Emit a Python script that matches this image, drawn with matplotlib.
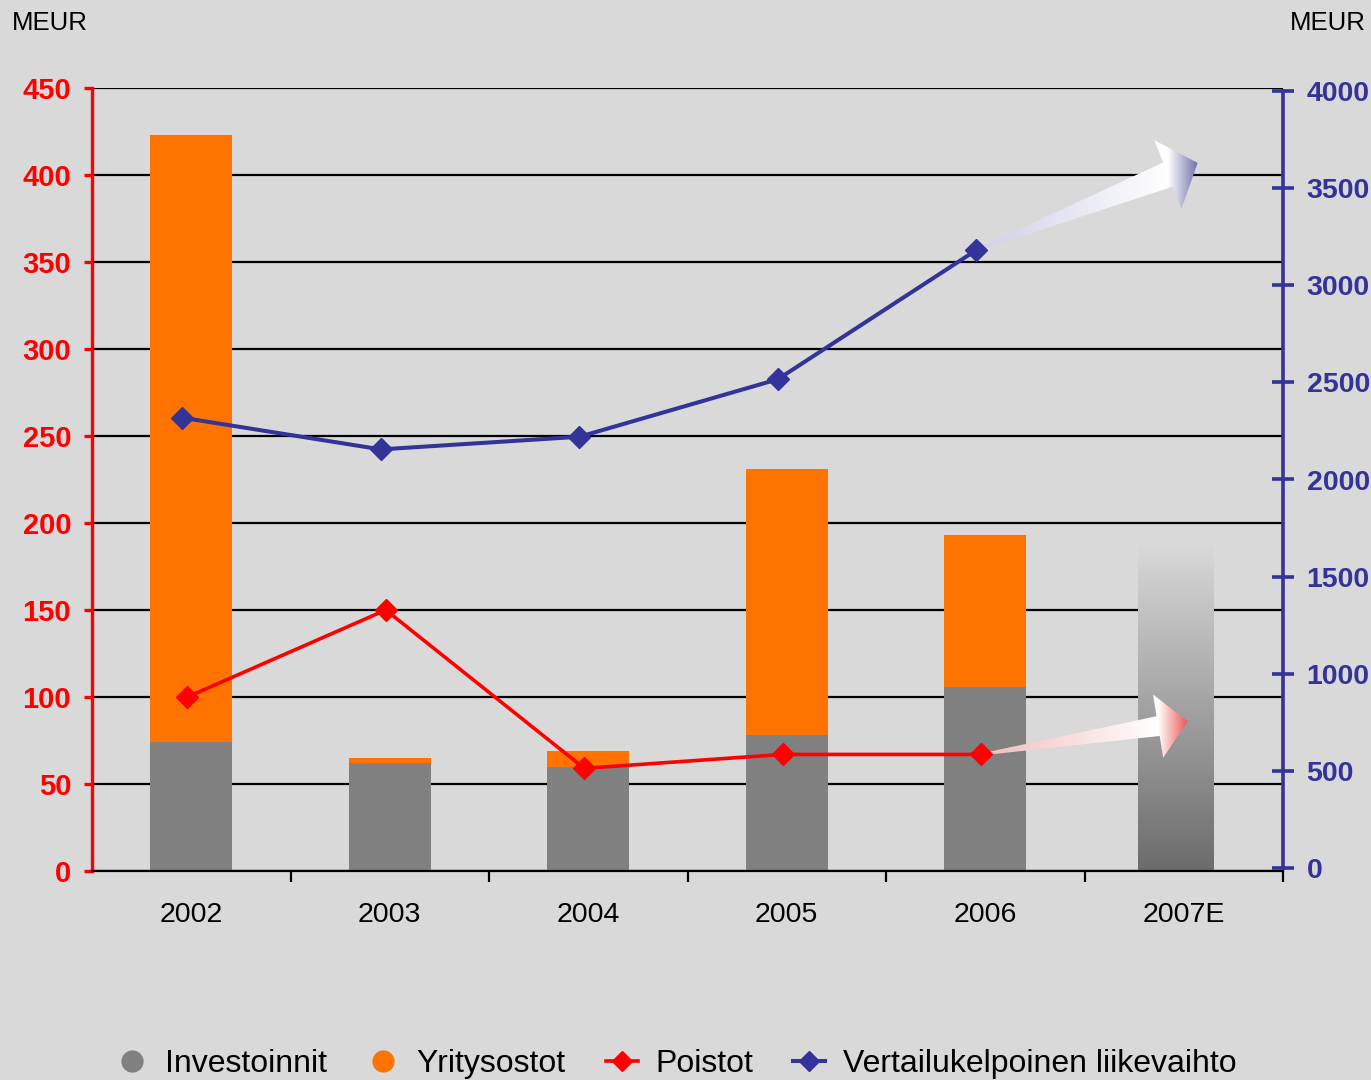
import numpy as np
import matplotlib
matplotlib.use("Agg")
import matplotlib.pyplot as plt
from matplotlib.patches import Polygon
from matplotlib.lines import Line2D
from matplotlib.colors import LinearSegmentedColormap, to_rgb

plt.rcParams['font.family'] = ['Liberation Sans', 'DejaVu Sans']

# ---- data ----
years = ["2002", "2003", "2004", "2005", "2006", "2007E"]
investoinnit = [74, 62, 60, 78, 106]
yritysostot = [349, 3, 9, 153, 87]          # stacked on top of investoinnit
estimate_2007 = 190                          # 2007E total (gradient bar)
poistot = [100, 150, 59, 67, 67]
liikevaihto = [2318, 2155, 2220, 2516, 3181]
poistot_arrow_target = (5.02, 86)            # arrow towards 2007E (left axis units)
liikevaihto_arrow_target = (5.07, 3630)      # arrow towards 2007E (right axis units)

left_ticks = [0, 50, 100, 150, 200, 250, 300, 350, 400, 450]
right_ticks = [0, 500, 1000, 1500, 2000, 2500, 3000, 3500, 4000]

BG = '#d9d9d9'
GRAY = '#808080'
ORANGE = '#ff7300'
RED = '#ff0000'
BLUE = '#333399'

fig = plt.figure(figsize=(13.71, 10.8), dpi=100, facecolor=BG)
W, H = 1371, 1080
ax = fig.add_axes([92 / W, 1 - 871 / H, (1283 - 92) / W, (871 - 88) / H])
ax.set_facecolor(BG)

n = len(investoinnit)
x = np.arange(len(years))
ax.set_xlim(-0.5, 5.5)
ax.set_ylim(0, 450)

# bars
bw = 0.415
ax.bar(x[:n], investoinnit, width=bw, color=GRAY, zorder=2)
ax.bar(x[:n], yritysostot, width=bw, bottom=investoinnit, color=ORANGE, zorder=2)

# gradient estimate bar
x7 = x[5] - 0.04
bw7 = 0.38
rect = ax.bar([x7], [estimate_2007], width=bw7, color='none', zorder=2)[0]
gcm = LinearSegmentedColormap.from_list('g', ['#6c6c6c', '#dadada'])
grad = np.linspace(0, 1, 256).reshape(-1, 1)
im = ax.imshow(grad, cmap=gcm, origin='lower', aspect='auto',
               extent=(x7 - bw7 / 2, x7 + bw7 / 2, 0, estimate_2007), zorder=2,
               interpolation='bilinear')
im.set_clip_path(rect)
ax.set_xlim(-0.5, 5.5)
ax.set_ylim(0, 450)

# grid
ax.set_yticks(left_ticks)
ax.yaxis.grid(True, color='black', linewidth=1.6, zorder=1)
ax.set_axisbelow(True)

# red line
ax.plot(x[:n] - 0.02, poistot, color=RED, lw=2.6, marker='D', ms=11,
        zorder=5, solid_joinstyle='round')

# spines
for s in ['top', 'right']:
    ax.spines[s].set_visible(False)
ax.spines['left'].set_color(RED)
ax.spines['left'].set_linewidth(2.4)
ax.spines['bottom'].set_color('black')
ax.spines['bottom'].set_linewidth(1.6)

ax.tick_params(axis='y', colors=RED, direction='out', length=6, width=2.4,
               labelsize=21, pad=9)
for t in ax.get_yticklabels():
    t.set_fontweight('bold')

ax.set_xticks(x)
ax.set_xticklabels(years, fontsize=20.5)
ax.tick_params(axis='x', which='major', length=0, pad=22, colors='black')
ax.set_xticks(np.arange(0.5, 6.0, 1.0), minor=True)
ax.tick_params(axis='x', which='minor', length=8, width=1.6, direction='out', color='black')

# right axis
ax2 = ax.twinx()
ax2.set_ylim(-15.4, 4015.4)
ax2.set_yticks(right_ticks)
for s in ['top', 'left', 'bottom']:
    ax2.spines[s].set_visible(False)
ax2.spines['right'].set_color(BLUE)
ax2.spines['right'].set_linewidth(2.6)
ax2.spines['right'].set_bounds(0, 4000)
ax2.tick_params(axis='y', colors=BLUE, direction='inout', length=16, width=2.6,
                labelsize=20.5, pad=9)
for t in ax2.get_yticklabels():
    t.set_fontweight('bold')
ax2.plot(x[:n] - 0.045, liikevaihto, color=BLUE, lw=2.9, marker='D', ms=11,
         zorder=5, solid_joinstyle='round')
ax2.set_xlim(-0.5, 5.5)


def grad_arrow(axis, start, end, c_start, c_tip, head_len, head_hw, shaft_hw, z):
    T = axis.transData
    p0 = T.transform(start)
    p1 = T.transform(end)
    d = (p1 - p0) / np.linalg.norm(p1 - p0)
    nn = np.array([-d[1], d[0]])
    pb = p1 - d * head_len
    verts = np.array([p0 + nn * 1.0, pb + nn * shaft_hw, pb + nn * head_hw, p1,
                      pb - nn * head_hw, pb - nn * shaft_hw, p0 - nn * 1.0])
    vd = T.inverted().transform(verts)
    poly = Polygon(vd, closed=True, facecolor='none', edgecolor='none',
                   transform=axis.transData, zorder=z)
    axis.add_patch(poly)
    x0, x1 = vd[:, 0].min(), vd[:, 0].max()
    y0, y1 = vd[:, 1].min(), vd[:, 1].max()
    pbd = T.inverted().transform(pb)
    tb = float(np.clip((pbd[0] - x0) / (x1 - x0), 0.05, 0.95))
    cm = LinearSegmentedColormap.from_list(
        'a', [(0, to_rgb(c_start)), (tb, (1, 1, 1)), (1, to_rgb(c_tip))])
    g = np.linspace(0, 1, 256).reshape(1, -1)
    img = axis.imshow(g, cmap=cm, aspect='auto', extent=(x0, x1, y0, y1),
                      interpolation='bilinear', zorder=z)
    img.set_clip_path(poly)


# arrows toward 2007E
grad_arrow(ax, (x[4] - 0.02, poistot[-1]), poistot_arrow_target,
           '#f4bcbc', '#ec5555', 30, 32, 10, 4)
grad_arrow(ax2, (x[4] - 0.045, liikevaihto[-1]), liikevaihto_arrow_target,
           '#cfcfe8', '#7272ad', 32, 37, 13, 4)
ax.set_xlim(-0.5, 5.5)
ax.set_ylim(0, 450)
ax2.set_xlim(-0.5, 5.5)
ax2.set_ylim(-15.4, 4015.4)

# unit labels
fig.text(12 / W, 1 - 23 / H, 'MEUR', fontsize=18.5, ha='left', va='center', color='black')
fig.text(1366 / W, 1 - 23 / H, 'MEUR', fontsize=18.5, ha='right', va='center', color='black')

# legend
handles = [
    Line2D([], [], linestyle='none', marker='o', ms=15, color=GRAY),
    Line2D([], [], linestyle='none', marker='o', ms=15, color=ORANGE),
    Line2D([], [], color=RED, lw=2.6, marker='D', ms=10),
    Line2D([], [], color=BLUE, lw=2.9, marker='D', ms=10),
]
labels = ['Investoinnit', 'Yritysostot', 'Poistot', 'Vertailukelpoinen liikevaihto']
fig.legend(handles, labels, loc='center', bbox_to_anchor=(0.493, 0.0145), ncol=4,
           frameon=False, fontsize=23, handlelength=1.0, handletextpad=0.55,
           columnspacing=1.25, borderpad=0, borderaxespad=0)

fig.savefig('out.png', dpi=100, facecolor=BG)
